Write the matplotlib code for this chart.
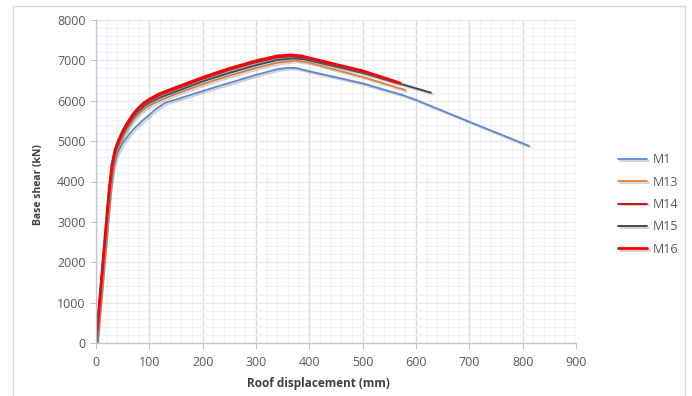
import numpy as np
import matplotlib
matplotlib.use('Agg')
import matplotlib.pyplot as plt
import matplotlib.patheffects as pe
from matplotlib.patches import Rectangle
from matplotlib.ticker import MultipleLocator

# pushover curves: roof displacement (mm), base shear (kN)
d_M1 = [0, 10, 20, 25, 30, 35, 40, 50, 60, 70, 80, 90, 100, 115, 130, 150, 200, 250, 300, 340, 360, 375, 400, 500, 575, 600, 700, 812]
v_M1 = [0, 1500, 2980, 3700, 4200, 4520, 4700, 4950, 5130, 5290, 5420, 5540, 5650, 5820, 5950, 6030, 6240, 6440, 6640, 6780, 6815, 6810, 6730, 6430, 6140, 6020, 5480, 4880]

d_M13 = [0, 10, 20, 25, 30, 35, 40, 50, 60, 70, 80, 90, 100, 120, 150, 200, 250, 300, 340, 375, 400, 500, 580]
v_M13 = [0, 1520, 3030, 3750, 4300, 4620, 4820, 5120, 5340, 5530, 5680, 5790, 5880, 6010, 6170, 6410, 6620, 6810, 6940, 6995, 6940, 6590, 6265]

d_M14 = [0, 10, 20, 25, 30, 35, 40, 50, 60, 70, 80, 90, 100, 120, 150, 200, 250, 300, 340, 365, 385, 400, 500, 560]
v_M14 = [0, 1540, 3080, 3830, 4390, 4720, 4920, 5220, 5450, 5650, 5800, 5910, 6000, 6140, 6290, 6540, 6760, 6950, 7070, 7095, 7075, 7030, 6715, 6470]

d_M15 = [0, 10, 20, 25, 30, 35, 40, 50, 60, 70, 80, 90, 100, 120, 150, 200, 250, 300, 340, 370, 390, 400, 500, 628]
v_M15 = [0, 1530, 3050, 3800, 4350, 4680, 4880, 5180, 5400, 5600, 5750, 5860, 5950, 6080, 6230, 6480, 6690, 6880, 7010, 7050, 7030, 7000, 6690, 6200]

d_M16 = [0, 10, 20, 25, 30, 35, 40, 50, 60, 70, 80, 90, 100, 120, 150, 200, 250, 300, 340, 365, 385, 400, 500, 570]
v_M16 = [0, 1550, 3100, 3850, 4420, 4750, 4950, 5250, 5480, 5680, 5830, 5950, 6040, 6180, 6330, 6580, 6800, 6990, 7110, 7135, 7110, 7060, 6740, 6440]

labels = ['M1', 'M13', 'M14', 'M15', 'M16']
colors = ['#5B86D0', '#ED7D31', '#C00000', '#404A5A', '#FF0000']
widths = [1.3, 1.3, 1.3, 1.4, 2.0]

fig = plt.figure(figsize=(6.92, 3.96), dpi=100)
plt.rcParams['font.family'] = ['Open Sans', 'DejaVu Sans']

# light frame round the whole chart
fig.patches.append(Rectangle((13/692, -0.01), 672/692, 1 - 6/396 + 0.01,
                             transform=fig.transFigure, fill=False,
                             edgecolor='#D9D9D9', linewidth=1.0))

ax = fig.add_axes([96/692, 53/396, 480/692, 323/396])

shadow = [pe.SimpleLineShadow(offset=(1.2, -1.2), shadow_color='#7f7f7f', alpha=0.35),
          pe.Normal()]

data = [(d_M1, v_M1), (d_M13, v_M13), (d_M14, v_M14), (d_M15, v_M15), (d_M16, v_M16)]
for (d, v), lab, c, w in zip(data, labels, colors, widths):
    ax.plot(d, v, color=c, lw=w, label=lab, path_effects=shadow, solid_capstyle='round')

ax.set_xlim(0, 900)
ax.set_ylim(0, 8000)
ax.xaxis.set_major_locator(MultipleLocator(100))
ax.xaxis.set_minor_locator(MultipleLocator(20))
ax.yaxis.set_major_locator(MultipleLocator(1000))
ax.yaxis.set_minor_locator(MultipleLocator(200))

ax.grid(which='minor', color='#EEF1F6', lw=0.9)
ax.grid(which='major', axis='x', color='#D6DCE5', lw=1.0)
ax.grid(which='major', axis='y', color='#E6EAF0', lw=0.9)
ax.set_axisbelow(True)

for s in ['top', 'right']:
    ax.spines[s].set_visible(False)
for s in ['left', 'bottom']:
    ax.spines[s].set_color('#BFC7D4')
    ax.spines[s].set_linewidth(1.0)

ax.tick_params(which='major', length=4, color='#BFC7D4', labelsize=9, labelcolor='#595959')
ax.tick_params(axis='x', pad=5)
ax.tick_params(which='minor', length=0)

ax.set_xlabel('Roof displacement (mm)', fontsize=8.5, fontweight='bold', color='#404040')
ax.xaxis.set_label_coords(222/480, -34/323)
ax.set_ylabel('Base shear (kN)', fontsize=7.5, fontweight='bold', color='#404040')
ax.yaxis.set_label_coords(-52/480, 0.49)

leg = ax.legend(loc='upper left', bbox_to_anchor=(612/692, 1 - 147/396),
                bbox_transform=fig.transFigure, frameon=False, fontsize=9,
                handlelength=2.3, handletextpad=0.5, labelspacing=0.75, borderpad=0)
for t in leg.get_texts():
    t.set_color('#595959')

fig.savefig('out.png', dpi=100)
